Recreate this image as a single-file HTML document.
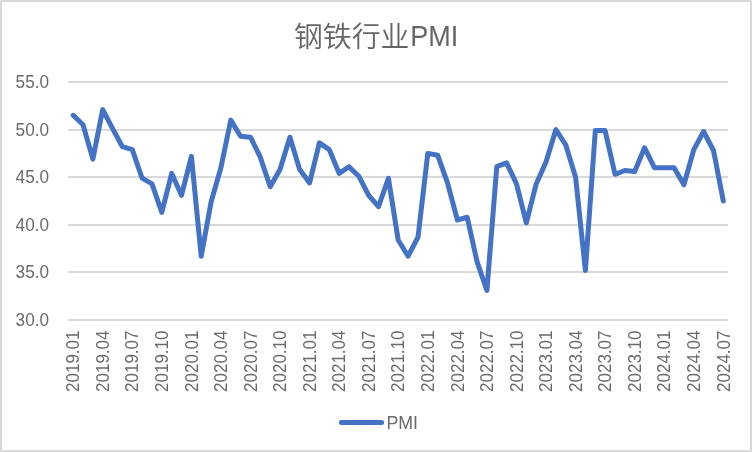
<!DOCTYPE html>
<html lang="zh-CN">
<head>
<meta charset="utf-8">
<title>钢铁行业PMI</title>
<style>
html,body{margin:0;padding:0;background:#fff;}
body{width:752px;height:452px;overflow:hidden;}
svg{display:block;}
text{font-family:"Liberation Sans","Noto Sans CJK SC",sans-serif;fill:#6a6a6a;font-size:18px;}
.title{font-size:28px;font-weight:350;fill:#666;}
.grid rect{fill:#d9d9d9;}
</style>
</head>
<body>
<svg width="752" height="452" viewBox="0 0 752 452">
<rect x="0" y="0" width="752" height="452" fill="#d9d9d9"/>
<rect x="2" y="2" width="748" height="448" fill="#fff"/>
<g fill="#e3e3e3"><rect x="0" y="0" width="1" height="1"/><rect x="751" y="0" width="1" height="1"/><rect x="0" y="451" width="1" height="1"/><rect x="751" y="451" width="1" height="1"/></g>
<text class="title" x="294" y="47.3" textLength="115.5" lengthAdjust="spacingAndGlyphs" style="font-size:28.8px">钢铁行业</text>
<text class="title" x="410.2" y="45.9" textLength="48" lengthAdjust="spacingAndGlyphs" style="font-size:28.6px">PMI</text>
<g class="grid">
<rect x="68" y="81" width="660" height="2"/>
<rect x="68" y="129" width="660" height="2"/>
<rect x="68" y="176" width="660" height="2"/>
<rect x="68" y="224" width="660" height="2"/>
<rect x="68" y="271" width="660" height="2"/>
<rect x="68" y="319" width="660" height="2"/>
</g>
<g class="ylab">
<text x="49" y="88" text-anchor="end" textLength="33.4" lengthAdjust="spacingAndGlyphs">55.0</text>
<text x="49" y="136" text-anchor="end" textLength="33.4" lengthAdjust="spacingAndGlyphs">50.0</text>
<text x="49" y="183" text-anchor="end" textLength="33.4" lengthAdjust="spacingAndGlyphs">45.0</text>
<text x="49" y="231" text-anchor="end" textLength="33.4" lengthAdjust="spacingAndGlyphs">40.0</text>
<text x="49" y="278" text-anchor="end" textLength="33.4" lengthAdjust="spacingAndGlyphs">35.0</text>
<text x="49" y="326" text-anchor="end" textLength="33.4" lengthAdjust="spacingAndGlyphs">30.0</text>
</g>
<g class="xlab">
<text transform="translate(79.3,392) rotate(-90)" textLength="61.5" lengthAdjust="spacingAndGlyphs">2019.01</text>
<text transform="translate(108.9,392) rotate(-90)" textLength="61.5" lengthAdjust="spacingAndGlyphs">2019.04</text>
<text transform="translate(138.4,392) rotate(-90)" textLength="61.5" lengthAdjust="spacingAndGlyphs">2019.07</text>
<text transform="translate(168.0,392) rotate(-90)" textLength="61.5" lengthAdjust="spacingAndGlyphs">2019.10</text>
<text transform="translate(197.5,392) rotate(-90)" textLength="61.5" lengthAdjust="spacingAndGlyphs">2020.01</text>
<text transform="translate(227.1,392) rotate(-90)" textLength="61.5" lengthAdjust="spacingAndGlyphs">2020.04</text>
<text transform="translate(256.6,392) rotate(-90)" textLength="61.5" lengthAdjust="spacingAndGlyphs">2020.07</text>
<text transform="translate(286.2,392) rotate(-90)" textLength="61.5" lengthAdjust="spacingAndGlyphs">2020.10</text>
<text transform="translate(315.7,392) rotate(-90)" textLength="61.5" lengthAdjust="spacingAndGlyphs">2021.01</text>
<text transform="translate(345.3,392) rotate(-90)" textLength="61.5" lengthAdjust="spacingAndGlyphs">2021.04</text>
<text transform="translate(374.8,392) rotate(-90)" textLength="61.5" lengthAdjust="spacingAndGlyphs">2021.07</text>
<text transform="translate(404.4,392) rotate(-90)" textLength="61.5" lengthAdjust="spacingAndGlyphs">2021.10</text>
<text transform="translate(434.0,392) rotate(-90)" textLength="61.5" lengthAdjust="spacingAndGlyphs">2022.01</text>
<text transform="translate(463.5,392) rotate(-90)" textLength="61.5" lengthAdjust="spacingAndGlyphs">2022.04</text>
<text transform="translate(493.1,392) rotate(-90)" textLength="61.5" lengthAdjust="spacingAndGlyphs">2022.07</text>
<text transform="translate(522.6,392) rotate(-90)" textLength="61.5" lengthAdjust="spacingAndGlyphs">2022.10</text>
<text transform="translate(552.2,392) rotate(-90)" textLength="61.5" lengthAdjust="spacingAndGlyphs">2023.01</text>
<text transform="translate(581.7,392) rotate(-90)" textLength="61.5" lengthAdjust="spacingAndGlyphs">2023.04</text>
<text transform="translate(611.3,392) rotate(-90)" textLength="61.5" lengthAdjust="spacingAndGlyphs">2023.07</text>
<text transform="translate(640.8,392) rotate(-90)" textLength="61.5" lengthAdjust="spacingAndGlyphs">2023.10</text>
<text transform="translate(670.4,392) rotate(-90)" textLength="61.5" lengthAdjust="spacingAndGlyphs">2024.01</text>
<text transform="translate(699.9,392) rotate(-90)" textLength="61.5" lengthAdjust="spacingAndGlyphs">2024.04</text>
<text transform="translate(729.5,392) rotate(-90)" textLength="61.5" lengthAdjust="spacingAndGlyphs">2024.07</text>
</g>
<polyline fill="none" stroke="#4472c4" stroke-width="5" stroke-linejoin="round" stroke-linecap="round" points="73.2,115.3 83.0,124.8 92.9,159.1 102.7,109.6 112.6,128.6 122.4,146.7 132.3,149.6 142.1,178.2 152.0,183.9 161.8,212.4 171.7,173.4 181.5,195.3 191.4,156.3 201.2,256.2 211.1,202.0 220.9,167.7 230.8,120.1 240.6,136.3 250.5,137.2 260.3,157.2 270.2,186.7 280.0,169.6 289.9,137.2 299.7,169.6 309.6,182.9 319.4,142.9 329.3,149.6 339.1,173.4 349.0,166.7 358.8,176.2 368.7,195.3 378.5,206.7 388.4,178.2 398.2,240.0 408.1,256.2 418.0,237.2 427.8,153.4 437.7,155.3 447.5,182.9 457.4,220.0 467.2,217.2 477.1,261.9 486.9,290.5 496.8,166.7 506.6,162.9 516.5,183.9 526.3,222.9 536.2,183.9 546.0,162.0 555.9,129.6 565.7,144.8 575.6,177.2 585.4,270.5 595.3,130.6 605.1,130.6 615.0,174.3 624.8,170.5 634.7,171.5 644.5,147.7 654.4,167.7 664.2,167.7 674.1,167.7 683.9,184.8 693.8,149.6 703.6,131.5 713.5,150.5 723.3,201.0"/>
<line x1="341.4" y1="422.5" x2="381.6" y2="422.5" stroke="#4472c4" stroke-width="5" stroke-linecap="round"/>
<text x="386.4" y="429" textLength="31.6" lengthAdjust="spacingAndGlyphs">PMI</text>
</svg>
</body>
</html>
